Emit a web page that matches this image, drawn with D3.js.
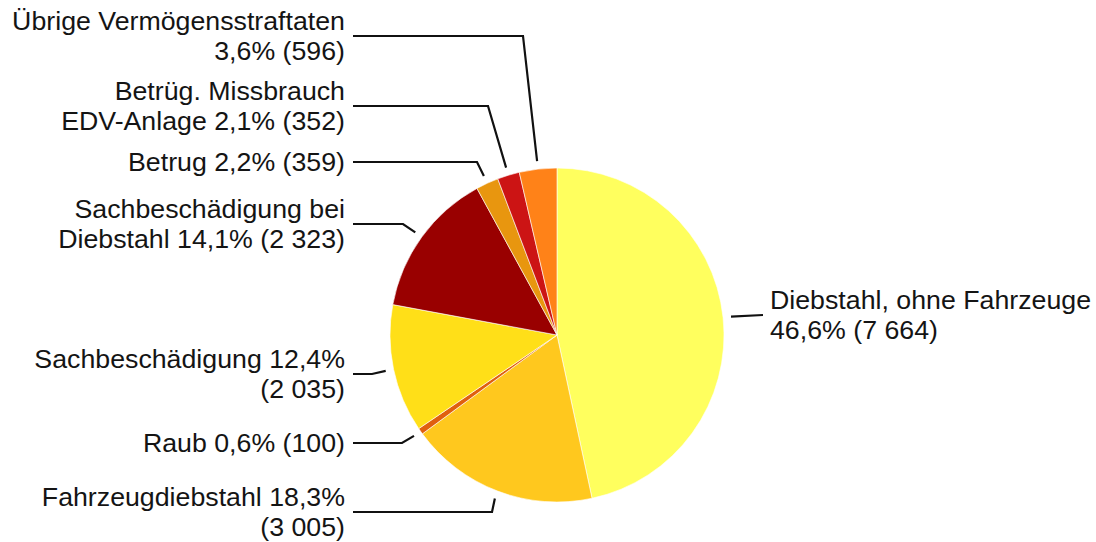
<!DOCTYPE html>
<html>
<head>
<meta charset="utf-8">
<script src="https://cdn.jsdelivr.net/npm/d3@7"></script>
<style>
  html, body { margin: 0; padding: 0; background: #fff; }
  svg { display: block; }
  text { font-family: "Liberation Sans", Arial, sans-serif; fill: #141414; }
</style>
</head>
<body>
<svg id="chart" width="1096" height="542"></svg>
<script>
// Categories in clockwise order, starting at 12 o'clock
const categories = [
  "Diebstahl, ohne Fahrzeuge",
  "Fahrzeugdiebstahl",
  "Raub",
  "Sachbeschädigung",
  "Sachbeschädigung bei Diebstahl",
  "Betrug",
  "Betrüg. Missbrauch EDV-Anlage",
  "Übrige Vermögensstraftaten"
];
const values = [7664, 3005, 100, 2035, 2323, 359, 352, 596];

// Label text, one entry per line; {p} = share, {n} = count
const labelLines = [
  ["Diebstahl, ohne Fahrzeuge", "{p} ({n})"],
  ["Fahrzeugdiebstahl {p}", "({n})"],
  ["Raub {p} ({n})"],
  ["Sachbeschädigung {p}", "({n})"],
  ["Sachbeschädigung bei", "Diebstahl {p} ({n})"],
  ["Betrug {p} ({n})"],
  ["Betrüg. Missbrauch", "EDV-Anlage {p} ({n})"],
  ["Übrige Vermögensstraftaten", "{p} ({n})"]
];

const colors = ["#ffff5e", "#ffc81e", "#e0600e", "#ffdf18", "#990000", "#e8960f", "#cc1414", "#ff8218"];

// Leader layout: y of the label's horizontal run, x of the elbow, side
const leaderLayout = [
  { side: "right", y: 315, elbowX: 763 },
  { side: "left",  y: 512, elbowX: 492 },
  { side: "left",  y: 443, elbowX: 402 },
  { side: "left",  y: 374, elbowX: 372 },
  { side: "left",  y: 224, elbowX: 403 },
  { side: "left",  y: 162, elbowX: 477 },
  { side: "left",  y: 106, elbowX: 488 },
  { side: "left",  y: 36,  elbowX: 523 }
];

const svg = d3.select("#chart");
const cx = 557, cy = 335, r = 167;
const fontSize = 25, lineGap = 30, stretch = 1.07;

const total = d3.sum(values);
const locale = d3.formatLocale({ decimal: ",", thousands: " ", grouping: [3], currency: ["", "€"] });
const fmtPct = v => locale.format(".1f")(v * 100) + "%";
const fmtNum = v => locale.format(",")(v);

const pie = d3.pie().sort(null).value(d => d.value).startAngle(0).endAngle(2 * Math.PI);
const arcs = pie(categories.map((c, i) => ({ name: c, value: values[i], i })));

const arc = d3.arc().innerRadius(0).outerRadius(r);
const g = svg.append("g").attr("transform", `translate(${cx},${cy})`);

g.selectAll("path.slice")
  .data(arcs)
  .join("path")
  .attr("class", "slice")
  .attr("d", arc)
  .attr("fill", d => colors[d.data.i])
  .attr("stroke", "#ffffff")
  .attr("stroke-width", 0.6);

// Leader lines and labels
const edge = d3.arc().innerRadius(r + 8).outerRadius(r + 8);
const labels = svg.append("g");

arcs.forEach(d => {
  const i = d.data.i;
  const L = leaderLayout[i];
  const [ex, ey] = edge.centroid(d);
  const px = cx + ex, py = cy + ey;
  const lines = labelLines[i].map(s =>
    s.replace("{p}", fmtPct(d.data.value / total)).replace("{n}", fmtNum(d.data.value)));

  let pts, tx, anchor;
  if (L.side === "left") {
    pts = [[353, L.y], [L.elbowX, L.y], [px, py]];
    tx = 345; anchor = "end";
  } else {
    pts = [[px, py], [L.elbowX, L.y]];
    tx = 770; anchor = "start";
  }
  labels.append("path")
    .attr("d", d3.line()(pts))
    .attr("fill", "none")
    .attr("stroke", "#111")
    .attr("stroke-width", 2.2);

  const capH = 0.716 * fontSize;
  const blockH = (lines.length - 1) * lineGap + capH;
  const firstBase = L.y - blockH / 2 + capH;
  const t = labels.append("text")
    .attr("transform", `translate(${tx},0) scale(${stretch},1)`)
    .attr("text-anchor", anchor)
    .attr("font-size", fontSize);
  lines.forEach((s, k) => {
    t.append("tspan").attr("x", 0).attr("y", firstBase + k * lineGap).text(s);
  });
});
</script>
</body>
</html>
